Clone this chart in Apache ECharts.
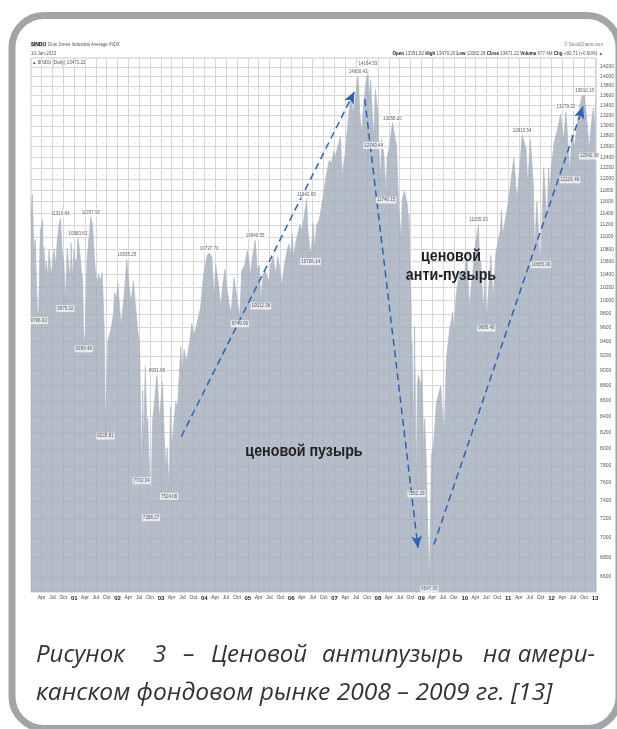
<!DOCTYPE html>
<html><head><meta charset="utf-8">
<script src="https://cdn.jsdelivr.net/npm/echarts@6/dist/echarts.min.js"></script>
<style>html,body{margin:0;padding:0;background:#fff;}#c{width:617px;height:729px;}</style>
</head><body><div id="c"></div><script>
const y2000 = [['2000-01-03',11357],['2000-01-14',11723],['2000-01-28',10739],['2000-02-08',10957],['2000-02-25',9862],['2000-03-07',9796],['2000-03-16',10630],['2000-03-23',11112],['2000-04-11',11287],['2000-04-14',10306],['2000-04-20',10844],['2000-05-04',10412],['2000-05-12',10609],['2000-05-26',10300],['2000-06-02',10794],['2000-06-22',10376],['2000-07-17',10804],['2000-07-28',10512],['2000-08-10',10908],['2000-08-25',11192],['2000-09-06',11310],['2000-09-21',10765],['2000-10-06',10596],['2000-10-18',9975],['2000-10-26',10380],['2000-11-03',10817],['2000-11-20',10462],['2000-12-01',10373],['2000-12-05',10898],['2000-12-20',10318],['2000-12-29',10787]];
const y2001 = [['2001-01-05',10662],['2001-01-22',10578],['2001-02-01',10983],['2001-02-14',10795],['2001-02-28',10495],['2001-03-13',10290],['2001-03-22',9389],['2001-04-04',9515],['2001-04-18',10616],['2001-05-01',10898],['2001-05-21',11337],['2001-06-05',11175],['2001-06-21',10596],['2001-07-11',10242],['2001-07-25',10405],['2001-08-09',10294],['2001-08-24',10423],['2001-09-10',9605],['2001-09-21',8235],['2001-10-01',8836],['2001-10-11',9410],['2001-11-07',9591],['2001-11-29',9829],['2001-12-05',10114],['2001-12-21',10035],['2001-12-31',10021]];
const y2002 = [['2002-01-04',10259],['2002-01-29',9618],['2002-02-15',9903],['2002-02-27',10115],['2002-03-19',10635],['2002-04-05',10271],['2002-04-24',9960],['2002-05-14',10298],['2002-05-31',9925],['2002-06-19',9561],['2002-07-05',9379],['2002-07-10',8813],['2002-07-23',7702],['2002-07-31',8736],['2002-08-06',8043],['2002-08-22',9053],['2002-09-03',8308],['2002-09-12',8379],['2002-09-30',7591],['2002-10-09',7286],['2002-10-21',8322],['2002-11-07',8586],['2002-11-27',8931],['2002-12-02',8862],['2002-12-19',8364],['2002-12-31',8341]];
const y2003 = [['2003-01-14',8842],['2003-01-31',8053],['2003-02-13',7749],['2003-02-21',8018],['2003-03-11',7524],['2003-03-21',8521],['2003-03-31',7992],['2003-04-16',8257],['2003-05-06',8588],['2003-05-19',8491],['2003-06-17',9323],['2003-06-30',8985],['2003-07-14',9284],['2003-08-07',9126],['2003-08-28',9374],['2003-09-18',9659],['2003-10-02',9487],['2003-10-23',9599],['2003-11-14',9768],['2003-12-01',9900],['2003-12-19',10278],['2003-12-31',10454]];
const y2004 = [['2004-01-16',10600],['2004-01-26',10702],['2004-02-11',10737],['2004-03-03',10678],['2004-03-24',10048],['2004-04-05',10558],['2004-04-30',10226],['2004-05-17',9906],['2004-06-04',10242],['2004-06-23',10479],['2004-07-06',10219],['2004-07-26',9961],['2004-08-13',9825],['2004-09-07',10342],['2004-09-28',10077],['2004-10-25',9749],['2004-11-11',10469],['2004-11-22',10456],['2004-12-06',10547],['2004-12-27',10776],['2004-12-31',10783]];
const y2005 = [['2005-01-10',10621],['2005-01-24',10368],['2005-02-08',10664],['2005-03-04',10940],['2005-03-21',10470],['2005-04-07',10546],['2005-04-20',10012],['2005-05-09',10384],['2005-05-24',10472],['2005-06-07',10467],['2005-06-27',10290],['2005-07-13',10556],['2005-08-02',10683],['2005-08-26',10397],['2005-09-09',10678],['2005-10-03',10441],['2005-10-13',10216],['2005-11-04',10530],['2005-11-30',10806],['2005-12-13',10883],['2005-12-30',10717]];
const y2006 = [['2006-01-11',11043],['2006-01-20',10668],['2006-02-10',10919],['2006-03-15',11209],['2006-03-31',11109],['2006-04-13',11138],['2006-04-21',11347],['2006-05-10',11642],['2006-05-22',11094],['2006-06-13',10706],['2006-06-28',10973],['2006-07-03',11228],['2006-07-18',10799],['2006-08-02',11199],['2006-08-25',11284],['2006-09-27',11689],['2006-10-16',11980],['2006-11-17',12342],['2006-12-04',12283],['2006-12-27',12510]];
const y2007 = [['2007-01-05',12398],['2007-02-20',12786],['2007-03-05',12050],['2007-03-20',12288],['2007-04-05',12560],['2007-04-25',13089],['2007-05-18',13556],['2007-06-07',13266],['2007-06-20',13489],['2007-07-19',14000],['2007-08-03',13181],['2007-08-16',12845],['2007-08-31',13357],['2007-09-19',13815],['2007-10-09',14164],['2007-10-19',13522],['2007-10-31',13930],['2007-11-26',12743],['2007-12-10',13727],['2007-12-31',13264]];
const y2008 = [['2008-01-08',12589],['2008-01-22',11971],['2008-02-01',12743],['2008-02-20',12427],['2008-03-10',11740],['2008-03-18',12392],['2008-04-07',12612],['2008-05-02',13058],['2008-05-20',12828],['2008-06-05',12604],['2008-06-26',11453],['2008-07-15',10962],['2008-07-23',11632],['2008-08-11',11782],['2008-09-08',11510],['2008-09-15',10917],['2008-09-19',11388],['2008-09-29',10365],['2008-10-06',9955],['2008-10-10',8451],['2008-10-13',9387],['2008-10-27',8175],['2008-11-04',9625],['2008-11-20',7552],['2008-11-28',8829],['2008-12-08',8934],['2008-12-16',8924],['2008-12-31',8776]];
const y2009 = [['2009-01-06',9015],['2009-01-20',7949],['2009-01-28',8375],['2009-02-10',7888],['2009-02-23',7114],['2009-03-09',6547],['2009-03-26',7925],['2009-04-13',8057],['2009-05-08',8574],['2009-06-12',8799],['2009-07-10',8146],['2009-07-31',9171],['2009-08-27',9580],['2009-09-22',9829],['2009-10-02',9487],['2009-10-20',10092],['2009-11-17',10437],['2009-12-31',10428]];
const y2010 = [['2010-01-19',10725],['2010-02-08',9908],['2010-03-31',10856],['2010-04-26',11205],['2010-05-06',10520],['2010-05-14',10620],['2010-06-07',9816],['2010-06-18',10450],['2010-07-02',9686],['2010-08-09',10698],['2010-08-26',9985],['2010-09-20',10753],['2010-10-29',11118],['2010-11-05',11444],['2010-11-16',11023],['2010-12-31',11577]];
const y2011 = [['2011-01-14',11787],['2011-02-18',12391],['2011-03-16',11613],['2011-04-29',12810],['2011-05-31',12569],['2011-06-15',11897],['2011-07-07',12719],['2011-08-02',11866],['2011-08-10',10719],['2011-08-31',11613],['2011-09-22',10733],['2011-10-03',10655],['2011-10-27',12208],['2011-11-25',11231],['2011-12-07',12196],['2011-12-19',11766],['2011-12-30',12217]];
const y2012 = [['2012-01-24',12675],['2012-02-28',13005],['2012-03-16',13232],['2012-04-10',12715],['2012-05-01',13279],['2012-06-04',12101],['2012-06-19',12837],['2012-07-12',12604],['2012-08-17',13275],['2012-09-14',13593],['2012-10-05',13610],['2012-11-15',12542],['2012-11-30',13025],['2012-12-18',13350],['2012-12-28',12938]];
const y2013 = [['2013-01-04',13435],['2013-01-10',13471]];

// annotated extremes
const peakLabels = [['2000-09-06',11310.64],['2001-02-01',10983.63],['2001-05-21',11337.92],['2002-03-19',10635.25],['2002-11-27',8931.68],['2004-02-11',10737.70],['2005-03-04',10940.55],['2006-05-10',11642.65],['2007-07-19',14000.41],['2007-10-09',14164.53],['2008-05-02',13058.20],['2010-04-26',11205.03],['2011-04-29',12810.54],['2012-05-01',13279.32],['2012-10-05',13610.15]];
const troughLabels = [['2000-03-07',9796.03],['2000-10-18',9975.02],['2001-03-22',9389.48],['2001-09-21',8235.81],['2002-07-23',7702.34],['2002-10-09',7286.27],['2003-03-11',7524.06],['2004-10-25',9749.99],['2005-04-20',10012.36],['2006-06-13',10706.14],['2007-11-26',12743.44],['2008-03-10',11740.15],['2008-11-20',7552.29],['2009-03-09',6547.05],['2010-07-02',9686.48],['2011-10-03',10655.30],['2012-06-04',12101.46],['2012-11-15',12542.38]];

// dashed trend arrows [from, to]
const arrows = [
  [['2003-06-21',8150],['2007-06-16',13680]],
  [['2007-09-12',13530],['2008-12-03',6895]],
  [['2009-04-16',6930],['2012-09-22',13380]]
];

const yTicks = []; for (let v = 6600; v <= 14200; v += 200) yTicks.push(v);
const monthNames = {3:'Apr',6:'Jul',9:'Oct'};
const xTicks = []; for (let y = 2000; y <= 2013; y++) for (let m = 0; m < 12; m += 3) { const t = Date.UTC(y, m, 1); if (t > Date.UTC(2000,1,1) && t <= Date.UTC(2013,0,2)) xTicks.push(t); }

const price = [].concat(y2000,y2001,y2002,y2003,y2004,y2005,y2006,y2007,y2008,y2009,y2010,y2011,y2012,y2013);
const ts = s => +new Date(s + 'T00:00:00Z');

const chart = echarts.init(document.getElementById('c'), null, {renderer:'canvas'});
const smallFont = '"Liberation Sans", Arial, sans-serif';
const capFont = 'italic 24px "Open Sans", sans-serif';
const boldFont = 'bold 17px "Liberation Sans", Arial, sans-serif';
chart.setOption({
  animation:false,
  backgroundColor:'#fff',
  grid:{left:31, right:20, top:58, bottom:137, show:true, borderColor:'#c8c8c8', borderWidth:1, backgroundColor:'#fff'},
  xAxis:{type:'value', min:ts('2000-01-03'), max:ts('2013-01-10'), scale:true,
    axisLine:{show:false}, axisTick:{show:false, customValues:xTicks},
    splitLine:{show:true, lineStyle:{color:'#d6d6d6', width:1}},
    axisLabel:{customValues:xTicks, margin:3, fontSize:5, color:'#444', fontFamily:smallFont,
      formatter:(v)=>{const d=new Date(v); const m=d.getUTCMonth(); if(m===0) return '{y|'+String(d.getUTCFullYear()).slice(2)+'}'; return monthNames[m];},
      rich:{y:{fontWeight:'bold', fontSize:6, color:'#222', fontFamily:smallFont}}}},
  yAxis:{type:'log', logBase:10, min:6453, max:14393, position:'right',
    axisLine:{show:false}, axisTick:{show:false, customValues:yTicks},
    splitLine:{show:true, lineStyle:{color:'#d6d6d6', width:1}},
    axisLabel:{customValues:yTicks, margin:4, fontSize:5, color:'#555', fontFamily:smallFont, formatter:v=>String(Math.round(v))}},
  series:[
    {type:'line', data:price.map(p=>[ts(p[0]),p[1]]), symbol:'none', lineStyle:{width:0.6, color:'#a9b3be'},
     areaStyle:{color:'#a2adba', opacity:0.8, origin:'start'}, z:2,
     markLine:{silent:true, symbol:['none','arrow'], symbolSize:[8,12],
       lineStyle:{type:[7,4.5], color:'#2a62b8', width:1.5},
       label:{show:false},
       data:arrows.map(a=>[{coord:[ts(a[0][0]),a[0][1]]},{coord:[ts(a[1][0]),a[1][1]]}])}},
    {type:'scatter', data:peakLabels.map(p=>[ts(p[0]),p[1]]), symbolSize:0, z:5,
     label:{show:true, position:'top', distance:1, fontSize:4.5, color:'#333', fontFamily:smallFont,
       backgroundColor:'rgba(255,255,255,0.85)', padding:[1,1], formatter:p=>p.value[1].toFixed(2)}},
    {type:'scatter', data:troughLabels.map(p=>[ts(p[0]),p[1]]), symbolSize:0, z:5,
     label:{show:true, position:'bottom', distance:3, fontSize:4.5, color:'#333', fontFamily:smallFont,
       backgroundColor:'rgba(255,255,255,0.85)', padding:[1,1], formatter:p=>p.value[1].toFixed(2)}}
  ],
  graphic:[
    {type:'rect', z:100, shape:{x:12, y:15.5, width:607, height:713, r:32}, style:{fill:'none', stroke:'#a3a4a8', lineWidth:7}},
    {type:'text', z:100, x:31, y:42, style:{text:'$INDU', font:'bold 5px '+smallFont, fill:'#222', backgroundColor:'#ddd'}},
    {type:'text', z:100, x:48, y:42, style:{text:'Dow Jones Industrial Average INDX', font:'4.5px '+smallFont, fill:'#555'}},
    {type:'text', z:100, x:31, y:51, style:{text:'10-Jan-2013', font:'4.5px '+smallFont, fill:'#555'}},
    {type:'text', z:100, x:32, y:60, style:{text:'▲ $INDU (Daily) 13471.22', font:'4.5px '+smallFont, fill:'#555', backgroundColor:'#fff'}},
    {type:'text', z:100, x:603, y:42, style:{text:'© StockCharts.com', font:'4.5px '+smallFont, fill:'#777', align:'right'}},
    {type:'text', z:100, x:603, y:51, style:{text:'{b|Open} 13391.82 {b|High} 13479.20 {b|Low} 13382.28 {b|Close} 13471.22 {b|Volume} 677.4M {b|Chg} +80.71 (+0.60%) ▲', font:'4.5px '+smallFont, fill:'#555', align:'right', rich:{b:{font:'bold 4.5px '+smallFont, fill:'#222'}}}},
    {type:'text', z:100, x:304, y:451, scaleX:0.84, style:{text:'ценовой пузырь', font:boldFont, fill:'#222', align:'center', verticalAlign:'middle'}},
    {type:'text', z:100, x:451, y:256, scaleX:0.84, style:{text:'ценовой', font:boldFont, fill:'#222', align:'center', verticalAlign:'middle'}},
    {type:'text', z:100, x:451, y:275, scaleX:0.84, style:{text:'анти-пузырь', font:boldFont, fill:'#222', align:'center', verticalAlign:'middle'}},
    {type:'text', z:100, x:36, y:643, style:{text:'Рисунок', font:capFont, fill:'#333'}},
    {type:'text', z:100, x:153, y:643, style:{text:'3', font:capFont, fill:'#333'}},
    {type:'text', z:100, x:183, y:643, style:{text:'–', font:capFont, fill:'#333'}},
    {type:'text', z:100, x:211, y:643, style:{text:'Ценовой', font:capFont, fill:'#333'}},
    {type:'text', z:100, x:322, y:643, style:{text:'антипузырь', font:capFont, fill:'#333'}},
    {type:'text', z:100, x:483, y:643, style:{text:'на', font:capFont, fill:'#333'}},
    {type:'text', z:100, x:595, y:643, style:{text:'амери-', font:capFont, fill:'#333', align:'right'}},
    {type:'text', z:100, x:36, y:681, scaleX:1.025, style:{text:'канском фондовом рынке 2008 – 2009 гг. [13]', font:capFont, fill:'#333'}}
  ]
});
</script></body></html>
